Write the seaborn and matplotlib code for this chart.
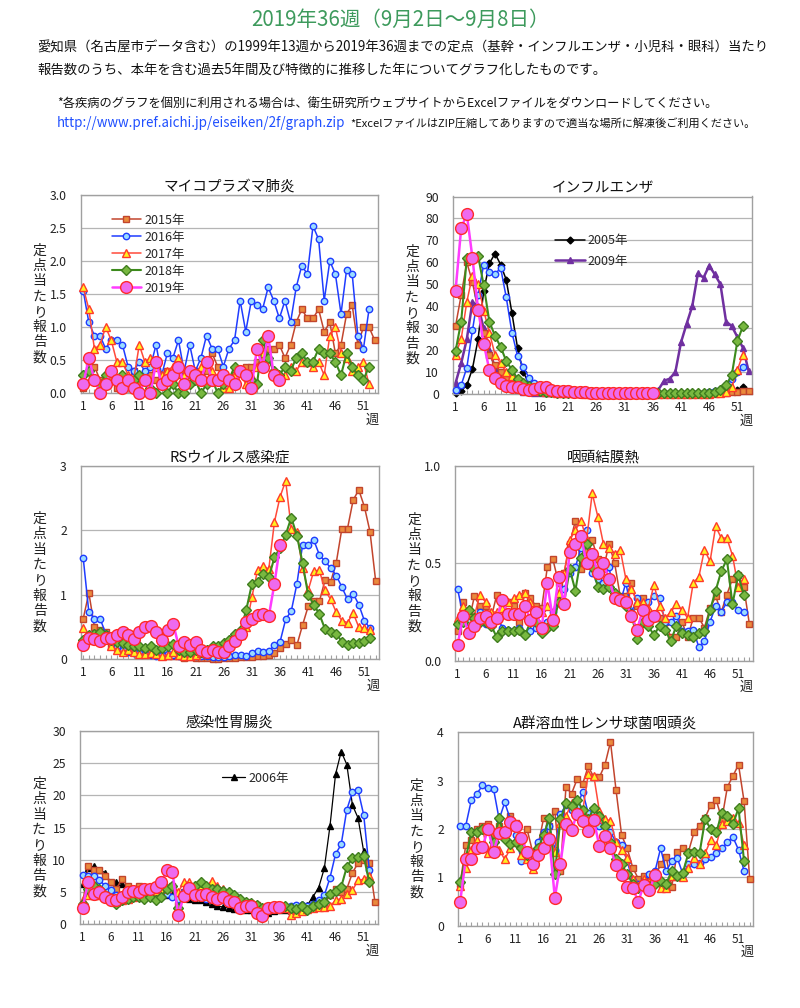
import matplotlib
matplotlib.use("Agg")
import matplotlib.pyplot as plt
import seaborn as sns
import numpy as np

sns.set_theme(style="white")
plt.rcParams['font.family'] = ['Noto Sans CJK JP', 'DejaVu Sans']

# ---------------- data ----------------
week_ticks = [1, 6, 11, 16, 21, 26, 31, 36, 41, 46, 51]

mp_2015 = [0.07,0.47,0.4,0.2,0.13,0.2,0.07,0.13,0.2,0.33,
           0.13,0.2,0.27,0.2,0.27,0.33,0.2,0.27,0.2,0.27,
           0.33,0.27,0.33,0.6,0.4,0.27,0.2,0.27,0.33,0.4,
           0.4,0.47,0.53,0.67,0.67,0.73,0.53,0.73,1.07,1.27,
           1.13,1.13,1.27,0.93,1.07,0.6,0.73,1.2,1.33,0.73,
           1.0,1.0,0.8]
mp_2016 = [1.55,1.07,0.87,0.87,0.67,0.8,0.8,0.73,0.4,0.33,
           0.47,0.33,0.4,0.73,0.27,0.6,0.53,0.8,0.33,0.73,
           0.33,0.53,0.87,0.67,0.67,0.4,0.67,0.8,1.4,0.93,
           1.4,1.33,1.27,1.6,1.4,1.13,1.4,1.07,1.6,1.93,
           1.8,2.53,2.33,1.4,2.0,1.8,1.2,1.87,1.8,0.87,
           0.67,1.27]
mp_2017 = [1.6,1.27,0.67,0.73,1.0,0.8,0.47,0.47,0.27,0.2,
           0.73,0.47,0.53,0.4,0.27,0.33,0.4,0.53,0.27,0.33,
           0.27,0.4,0.47,0.33,0.2,0.07,0.07,0.27,0.33,0.13,
           0.27,0.4,0.6,0.53,0.33,0.27,0.27,0.4,0.33,0.47,
           0.47,0.4,0.47,0.27,0.87,1.0,0.6,0.53,0.33,0.4,
           0.47,0.13]
mp_2018 = [0.27,0.33,0.2,0.13,0.27,0.33,0.2,0.27,0.13,0.2,
           0.27,0.2,0.07,0.0,0.13,0.0,0.13,0.0,0.0,0.13,
           0.2,0.0,0.13,0.2,0.0,0.13,0.2,0.4,0.33,0.27,
           0.2,0.13,0.8,0.53,0.33,0.27,0.4,0.33,0.53,0.6,
           0.47,0.47,0.67,0.6,0.6,0.47,0.27,0.6,0.4,0.27,
           0.2,0.4]
mp_2019 = [0.13,0.53,0.2,0.0,0.13,0.33,0.2,0.07,0.2,0.07,
           0.0,0.2,0.0,0.47,0.13,0.2,0.27,0.4,0.13,0.33,
           0.27,0.2,0.47,0.2,0.2,0.27,0.2,0.13,0.33,0.27,
           0.07,0.67,0.4,0.87,0.27,0.2]

flu_2005 = [0.5,1.5,4,11.5,25,47,59.5,64,59,52,
            37,21,10,5,3,2,1.5,1,0.8,0.6,
            0.5,0.4,0.3,0.3,0.2,0.2,0.2,0.2,0.2,0.2,
            0.2,0.2,0.2,0.2,0.2,0.2,0.2,0.2,0.2,0.2,
            0.2,0.2,0.3,0.3,0.3,0.4,0.5,0.6,0.8,1.2,
            2,3]
flu_2009 = [5,14,25,42,40,30,20,12,8,5,
            3,2,1,0.8,0.6,0.5,0.5,0.5,0.5,0.5,
            0.6,0.6,0.7,0.8,0.8,0.9,1,1,1.2,1.5,
            1.5,1.8,2,2,2,1.5,2,6,7,10,
            23.5,32,40,55,53,58.5,54.5,50,33,31,
            26,21,10.5]
flu_2015 = [31,45,60,51,38,28,18,13,10,7,
            5,4,3,2.5,2,1.5,1.2,1,0.8,0.6,
            0.5,0.4,0.3,0.3,0.2,0.2,0.2,0.2,0.1,0.1,
            0.1,0.1,0.1,0.1,0.1,0.1,0.1,0.1,0.1,0.1,
            0.1,0.1,0.2,0.2,0.2,0.3,0.3,0.4,0.5,0.8,
            1.0,1.3,1.5]
flu_2016 = [2,4,12,29,45,59,55.5,54.5,57.5,44,
            28,17.5,12.5,7.5,5,3,2,1.5,1,0.8,
            0.6,0.5,0.4,0.3,0.3,0.2,0.2,0.2,0.1,0.1,
            0.1,0.1,0.1,0.1,0.1,0.1,0.1,0.1,0.1,0.1,
            0.2,0.2,0.3,0.3,0.5,0.8,1.2,2,4,7,
            10,12.5]
flu_2017 = [18,25,42,54,50,38,28,18,14,10,
            8,5,3.5,2.5,2,1.5,1,0.8,0.6,0.5,
            0.4,0.3,0.3,0.2,0.2,0.2,0.1,0.1,0.1,0.1,
            0.1,0.1,0.1,0.1,0.1,0.1,0.1,0.1,0.1,0.1,
            0.1,0.1,0.1,0.1,0.2,0.2,0.3,0.5,1,3,
            11,18]
flu_2018 = [19.5,33,62,62,63,49.5,33,26.5,21.5,15,
            11,7,5,3.5,2.5,1.5,1,0.8,0.6,0.5,
            0.4,0.3,0.3,0.3,0.2,0.2,0.2,0.2,0.2,0.2,
            0.2,0.2,0.2,0.2,0.2,0.3,0.3,0.3,0.3,0.3,
            0.3,0.3,0.3,0.4,0.5,0.6,1,2,4,8.5,
            24,31]
flu_2019 = [47,75.5,82,62,38.5,23,11,7.5,5,3.5,
            3,3,2.5,2,2.5,3,3,2,1.5,1.5,
            1.5,1,1,0.7,0.5,0.5,0.4,0.4,0.4,0.4,
            0.4,0.4,0.4,0.4,0.5,0.5]

rs_2015 = [0.63,1.03,0.5,0.45,0.42,0.2,0.17,0.13,0.15,0.12,
           0.1,0.1,0.1,0.08,0.07,0.05,0.05,0.05,0.02,0.03,
           0.02,0.02,0.02,0.01,0.01,0.02,0.02,0.02,0.03,0.03,
           0.03,0.05,0.05,0.07,0.1,0.17,0.23,0.3,0.22,0.53,
           0.82,0.9,0.9,1.23,1.2,1.5,2.03,2.03,2.47,2.63,
           2.37,1.98,1.22]
rs_2016 = [1.57,0.73,0.63,0.63,0.4,0.3,0.2,0.15,0.12,0.1,
           0.1,0.08,0.07,0.05,0.07,0.08,0.07,0.05,0.05,0.07,
           0.05,0.05,0.05,0.03,0.03,0.03,0.05,0.07,0.07,0.05,
           0.1,0.13,0.12,0.13,0.22,0.27,0.62,0.75,1.17,1.77,
           1.78,1.85,1.62,1.52,1.42,1.3,1.12,0.93,1.02,0.85,
           0.6,0.48]
rs_2017 = [0.48,0.37,0.3,0.35,0.35,0.2,0.15,0.12,0.15,0.12,
           0.08,0.08,0.1,0.08,0.05,0.07,0.12,0.07,0.05,0.05,
           0.07,0.1,0.12,0.15,0.17,0.2,0.25,0.3,0.38,0.5,
           0.97,1.38,1.45,1.4,2.13,2.52,2.77,2.03,1.97,1.42,
           1.07,1.37,1.38,1.07,0.93,0.73,0.6,0.57,0.72,0.5,
           0.48,0.45]
rs_2018 = [0.3,0.37,0.4,0.42,0.38,0.3,0.27,0.25,0.22,0.2,
           0.2,0.18,0.2,0.15,0.17,0.2,0.23,0.15,0.12,0.12,
           0.15,0.12,0.15,0.2,0.2,0.25,0.3,0.4,0.45,0.77,
           1.17,1.2,1.33,1.27,1.58,1.73,1.93,2.2,1.92,1.5,
           1.0,0.85,0.7,0.47,0.42,0.4,0.27,0.22,0.25,0.25,
           0.28,0.33]
rs_2019 = [0.22,0.33,0.32,0.28,0.33,0.33,0.37,0.43,0.37,0.32,
           0.42,0.5,0.52,0.43,0.3,0.45,0.55,0.2,0.27,0.22,
           0.27,0.15,0.12,0.15,0.12,0.12,0.2,0.28,0.4,0.58,
           0.63,0.68,0.7,0.67,1.17,1.77]

pcf_2015 = [0.15,0.3,0.2,0.33,0.28,0.28,0.22,0.34,0.28,0.3,
            0.28,0.2,0.35,0.32,0.28,0.27,0.48,0.52,0.4,0.45,
            0.6,0.72,0.47,0.57,0.62,0.52,0.47,0.6,0.5,0.33,
            0.33,0.4,0.28,0.32,0.25,0.22,0.22,0.2,0.12,0.12,
            0.2,0.12,0.22,0.22,0.17,0.27,0.33,0.25,0.34,0.42,
            0.44,0.38,0.19]
pcf_2016 = [0.37,0.23,0.2,0.22,0.25,0.19,0.2,0.23,0.17,0.16,
            0.15,0.17,0.13,0.15,0.17,0.16,0.2,0.25,0.3,0.37,
            0.45,0.48,0.58,0.67,0.45,0.42,0.4,0.48,0.33,0.3,
            0.4,0.25,0.32,0.28,0.3,0.33,0.32,0.2,0.2,0.23,
            0.15,0.15,0.16,0.07,0.1,0.2,0.28,0.25,0.3,0.3,
            0.26,0.25]
pcf_2017 = [0.22,0.28,0.25,0.23,0.34,0.3,0.25,0.25,0.27,0.3,
            0.32,0.34,0.35,0.3,0.25,0.25,0.28,0.25,0.35,0.45,
            0.62,0.67,0.72,0.62,0.86,0.74,0.6,0.58,0.55,0.57,
            0.42,0.37,0.3,0.3,0.27,0.39,0.28,0.22,0.25,0.29,
            0.26,0.22,0.4,0.43,0.57,0.51,0.69,0.63,0.63,0.54,
            0.38,0.42]
pcf_2018 = [0.19,0.2,0.26,0.22,0.2,0.2,0.18,0.12,0.15,0.15,
            0.15,0.16,0.13,0.2,0.2,0.14,0.17,0.18,0.3,0.3,
            0.47,0.36,0.53,0.6,0.48,0.38,0.37,0.38,0.35,0.32,
            0.28,0.24,0.11,0.2,0.18,0.13,0.18,0.16,0.1,0.18,
            0.14,0.13,0.12,0.14,0.15,0.26,0.36,0.46,0.52,0.29,
            0.44,0.34]
pcf_2019 = [0.08,0.23,0.14,0.18,0.22,0.23,0.2,0.22,0.31,0.24,
            0.24,0.24,0.28,0.21,0.25,0.17,0.4,0.21,0.43,0.29,
            0.56,0.6,0.64,0.5,0.55,0.45,0.5,0.42,0.32,0.31,
            0.3,0.23,0.16,0.26,0.21,0.23]

ge_2006 = [6.3,8.8,9.0,8.5,8.0,6.5,6.5,6.3,5.5,5.2,
           5,5,5,4.8,5,4.5,4.5,4.2,4.2,4.0,
           3.8,3.7,3.5,3.2,2.8,2.7,2.5,2.4,2.3,2.2,
           2.2,2.0,1.8,1.8,2.0,2.2,2.2,2.5,2.8,3.2,
           3.0,4.3,5.7,8.7,15.2,23.3,26.8,24.8,18.5,16.5,
           11.3,9.5]
ge_2015 = [3,9,8.5,8.5,7.5,6.5,5.5,7.0,6,5.5,
           6,5.5,5,5,5.5,5.5,6,3,5,5.5,
           5,5,4.5,4.5,4.5,4.5,4.5,4,3.5,3.5,
           3,3,2.5,2.5,2.5,2.5,2.5,2,2,2.5,
           2.5,2.5,3,3.5,4.5,5.5,5,5.5,8,9.5,
           10,9.5,3.5]
ge_2016 = [7.7,7.5,7.5,6.9,6,5.3,4.6,4.5,4.5,4.5,
           4.5,4.5,4.5,4.5,4.8,4.7,4.2,4.0,5.0,5.0,
           4.5,4.5,4.0,4,3.8,3.8,3.5,3.3,3.1,3,
           3,2.8,2.5,2.5,2.6,2.6,2.6,2.8,3.0,3.0,
           2.8,3.2,3.8,4.5,7.2,10.9,12.4,17.8,20.5,20.8,
           17.0,8.5]
ge_2017 = [3.8,4.5,4.5,4.5,4.5,4.2,3.5,3.8,4,4.2,
           4.5,4.7,5,5.2,5.5,5.7,6,5,6.5,6.5,
           6,6,6,6.7,6,5.5,5,4.5,4,3.5,
           3,3,2.5,2.5,2.5,2.5,2.5,1.5,1.7,2,
           2.3,2.5,2.7,2.7,2.8,3.7,4,4.7,5.3,6.8,
           7,7.5]
ge_2018 = [3.2,5.5,6,5.5,4.5,4,3.2,3.8,4,4.2,
           4.3,4,4.3,3.7,4.3,5.5,6,2.5,4.5,5.5,
           6,6.5,6,5.5,5.5,5.2,5,4.5,4,3.5,
           3.3,3,2.5,2.5,2.7,2.8,2.8,2.5,2.3,2.8,
           2.2,2.8,3.2,3.5,4.7,5.2,5.8,8.9,10.3,10.5,
           10.6,6.5]
ge_2019 = [2.5,6.5,4.7,5.0,4.3,3.8,3.7,4.3,5,5.2,
           5,5.5,5.5,5.8,6.5,8.4,8.1,1.4,4.4,5.6,
           4.5,4.6,4.7,4.2,4.0,4.2,3.6,3.5,2.5,2.9,
           2.8,1.8,1.3,2.6,2.7,2.7]

gas_2015 = [0.87,1.67,1.77,2.0,2.07,2.1,1.87,2.07,1.97,2.27,
            2.13,1.73,2.0,1.53,1.67,2.23,2.07,2.37,1.13,2.87,
            2.73,3.03,2.93,3.3,3.07,3.07,3.33,3.8,2.8,1.87,
            1.6,1.2,0.97,1.03,0.93,1.0,1.27,1.43,0.8,1.53,
            1.6,1.53,1.93,2.07,2.23,2.5,2.6,2.2,2.87,3.1,
            3.33,2.57,0.97]
gas_2016 = [2.07,2.07,2.6,2.73,2.9,2.85,2.82,2.2,2.55,2.2,
            1.87,1.33,1.4,1.47,1.73,1.93,2.07,1.57,2.3,2.5,
            2.4,2.47,2.77,2.33,2.33,2.07,2.13,1.93,1.73,1.67,
            1.33,0.93,0.87,0.93,1.07,1.13,1.6,1.13,1.33,1.4,
            1.07,1.27,1.27,1.3,1.37,1.43,1.5,1.6,1.73,1.83,
            1.57,1.13]
gas_2017 = [0.83,1.2,1.57,1.77,2.0,1.5,1.83,1.57,1.37,1.6,
            1.73,1.47,1.37,1.17,1.57,1.67,1.87,1.53,2.13,2.27,
            2.53,2.37,2.37,3.13,3.1,2.37,2.2,2.17,1.73,1.57,
            1.4,0.97,0.83,0.97,0.9,0.93,0.77,0.77,1.03,1.03,
            1.0,1.2,1.4,1.27,1.5,1.77,1.67,2.1,2.17,2.23,
            2.13,1.67]
gas_2018 = [0.9,1.4,1.93,1.93,2.0,2.0,1.73,2.23,1.8,1.7,
            1.73,1.6,1.47,1.3,1.6,1.87,2.23,1.07,2.2,2.53,
            2.47,2.6,2.4,2.2,2.43,2.27,2.07,1.73,1.37,1.27,
            1.07,0.87,0.77,0.87,0.83,0.87,0.93,0.87,1.13,1.03,
            1.1,1.5,1.53,1.5,2.2,2.0,1.93,2.33,2.27,2.1,
            2.43,1.33]
gas_2019 = [0.5,1.38,1.38,1.6,1.63,2.0,1.53,1.92,1.93,2.15,
            2.07,1.82,1.52,1.27,1.47,1.6,1.8,0.58,1.28,2.1,
            1.97,2.32,2.17,1.95,2.18,1.65,1.85,1.6,1.25,1.05,
            0.8,0.77,0.5,0.85,0.73,1.05]

# ---------------- styles ----------------
STYLE = {
    '2015': dict(color='#c2452d', marker='s', mfc='#ea8a3c', mec='#c2452d', ms=5.0, lw=1.1, z=3),
    '2016': dict(color='#1f3cff', marker='o', mfc='#9adcff', mec='#1f3cff', ms=4.6, lw=1.1, z=4),
    '2017': dict(color='#ff4a3a', marker='^', mfc='#fff020', mec='#ff3a2a', ms=6.0, lw=1.1, z=5),
    '2018': dict(color='#3c8a1c', marker='D', mfc='#78b840', mec='#3f7d1e', ms=4.6, lw=1.5, z=6),
    '2019': dict(color='#ff3cff', marker='o', mfc='#ee6aee', mec='#ff2a2a', ms=8.5, lw=1.8, z=7),
    '2005': dict(color='#000000', marker='D', mfc='#000000', mec='#000000', ms=3.5, lw=1.1, z=2),
    '2009': dict(color='#7030a0', marker='^', mfc='#7030a0', mec='#7030a0', ms=5.0, lw=1.8, z=2),
    '2006': dict(color='#000000', marker='^', mfc='#000000', mec='#000000', ms=5.0, lw=0.9, z=2),
}

W, H = 800, 1008
fig = plt.figure(figsize=(W / 100, H / 100), dpi=100)
fig.patch.set_facecolor('white')


def draw(ax, key, vals):
    st = STYLE[key]
    weeks = np.arange(1, len(vals) + 1)
    sns.lineplot(x=weeks, y=vals, ax=ax, legend=False, label=key + '年',
                 color=st['color'], linewidth=st['lw'], marker=st['marker'],
                 markersize=st['ms'], markerfacecolor=st['mfc'],
                 markeredgecolor=st['mec'], markeredgewidth=1.0,
                 zorder=st['z'], clip_on=False)
    return ax.lines[-1]


def panel(rect, title, series, ylim, yticks, yfmt):
    l, t, r, b = rect
    ax = fig.add_axes([l / W, 1 - b / H, (r - l) / W, (b - t) / H])
    ax.set_facecolor('white')
    handles = {}
    for key, vals in series:
        handles[key] = draw(ax, key, vals)
    ax.set_xlim(0.55, 53.6)
    ax.set_ylim(*ylim)
    ax.set_yticks(yticks)
    ax.set_yticklabels([yfmt.format(v) for v in yticks])
    ax.set_xticks(week_ticks)
    ax.set_xticklabels([str(w) for w in week_ticks])
    ax.set_xticks(np.arange(1, 54), minor=True)
    ax.tick_params(axis='x', which='both', direction='in', length=3,
                   color='#a0a0a0', width=0.8, labelsize=8.5, pad=5,
                   labelcolor='#222222', bottom=True)
    ax.tick_params(axis='y', which='both', length=0, labelsize=8.8, pad=10,
                   labelcolor='#222222')
    ax.yaxis.grid(True, color='#b5b5b5', linewidth=0.9)
    ax.xaxis.grid(False)
    ax.set_axisbelow(True)
    for sp in ax.spines.values():
        sp.set_color('#a0a0a0')
        sp.set_linewidth(1.0)
    ax.set_xlabel('')
    ax.set_ylabel('')
    ax.set_title(title, fontsize=10.5, pad=3, color='#111111')
    # vertical y label
    xl = (l - 41) / W
    yc = 1 - ((t + b) / 2 + 10) / H
    fig.text(xl, yc, '\n'.join('定点当たり報告数'), ha='center', va='center',
             fontsize=10, linespacing=1.12, color='#222222')
    fig.text((r - 6) / W, 1 - (b + 27) / H, '週', ha='center', va='center',
             fontsize=9.5, color='#222222')
    return ax, handles


# header texts
fig.text(0.5, 1 - 20 / H, '2019年36週（9月2日～9月8日）', ha='center', va='center',
         fontsize=14.8, color='#3d9a5c')
fig.text(37 / W, 1 - 48 / H,
         '愛知県（名古屋市データ含む）の1999年13週から2019年36週までの定点（基幹・インフルエンザ・小児科・眼科）当たり',
         ha='left', va='center', fontsize=9.62, color='#111111')
fig.text(37 / W, 1 - 70 / H,
         '報告数のうち、本年を含む過去5年間及び特徴的に推移した年についてグラフ化したものです。',
         ha='left', va='center', fontsize=9.62, color='#111111')
fig.text(57 / W, 1 - 103 / H,
         '*各疾病のグラフを個別に利用される場合は、衛生研究所ウェブサイトからExcelファイルをダウンロードしてください。',
         ha='left', va='center', fontsize=8.85, color='#111111')
fig.text(57 / W, 1 - 123 / H, 'http://www.pref.aichi.jp/eiseiken/2f/graph.zip',
         ha='left', va='center', fontsize=9.6, color='#1f4fff')
fig.text(350 / W, 1 - 123 / H,
         '*ExcelファイルはZIP圧縮してありますので適当な場所に解凍後ご利用ください。',
         ha='left', va='center', fontsize=8.0, color='#111111')

# panel 1
ax1, h1 = panel((80.7, 195, 378, 393), 'マイコプラズマ肺炎',
                [('2015', mp_2015), ('2016', mp_2016), ('2017', mp_2017),
                 ('2018', mp_2018), ('2019', mp_2019)],
                (0, 3.0), [0, 0.5, 1.0, 1.5, 2.0, 2.5, 3.0], '{:.1f}')
ax1.legend(handles=[h1[k] for k in ['2015', '2016', '2017', '2018', '2019']],
           loc='upper left', bbox_to_anchor=(0.105, 0.905), frameon=False,
           fontsize=9, handlelength=2.3, handletextpad=0.3, labelspacing=0.32,
           borderpad=0, borderaxespad=0)

# panel 2
ax2, h2 = panel((453, 196.5, 752, 394), 'インフルエンザ',
                [('2005', flu_2005), ('2009', flu_2009), ('2015', flu_2015),
                 ('2016', flu_2016), ('2017', flu_2017), ('2018', flu_2018),
                 ('2019', flu_2019)],
                (0, 90), list(range(0, 91, 10)), '{:d}')
ax2.legend(handles=[h2['2005'], h2['2009']], loc='upper left',
           bbox_to_anchor=(0.34, 0.81), frameon=False, fontsize=9,
           handlelength=2.4, handletextpad=0.2, labelspacing=0.6,
           borderpad=0, borderaxespad=0)

# panel 3
panel((80.7, 466, 379, 659.3), 'RSウイルス感染症',
      [('2015', rs_2015), ('2016', rs_2016), ('2017', rs_2017),
       ('2018', rs_2018), ('2019', rs_2019)],
      (0, 3), [0, 1, 2, 3], '{:d}')

# panel 4
panel((455, 466, 752.7, 660.7), '咽頭結膜熱',
      [('2015', pcf_2015), ('2016', pcf_2016), ('2017', pcf_2017),
       ('2018', pcf_2018), ('2019', pcf_2019)],
      (0, 1.0), [0.0, 0.5, 1.0], '{:.1f}')

# panel 5
ax5, h5 = panel((80, 731, 378.3, 924.3), '感染性胃腸炎',
                [('2006', ge_2006), ('2015', ge_2015), ('2016', ge_2016),
                 ('2017', ge_2017), ('2018', ge_2018), ('2019', ge_2019)],
                (0, 30), [0, 5, 10, 15, 20, 25, 30], '{:d}')
ax5.legend(handles=[h5['2006']], loc='upper left', bbox_to_anchor=(0.475, 0.79),
           frameon=False, fontsize=9, handlelength=1.9, handletextpad=0.25,
           borderpad=0, borderaxespad=0)

# panel 6
panel((457.7, 732.3, 753, 925.7), 'A群溶血性レンサ球菌咽頭炎',
      [('2015', gas_2015), ('2016', gas_2016), ('2017', gas_2017),
       ('2018', gas_2018), ('2019', gas_2019)],
      (0, 4), [0, 1, 2, 3, 4], '{:d}')

fig.savefig('out.png', dpi=100, facecolor='white')
